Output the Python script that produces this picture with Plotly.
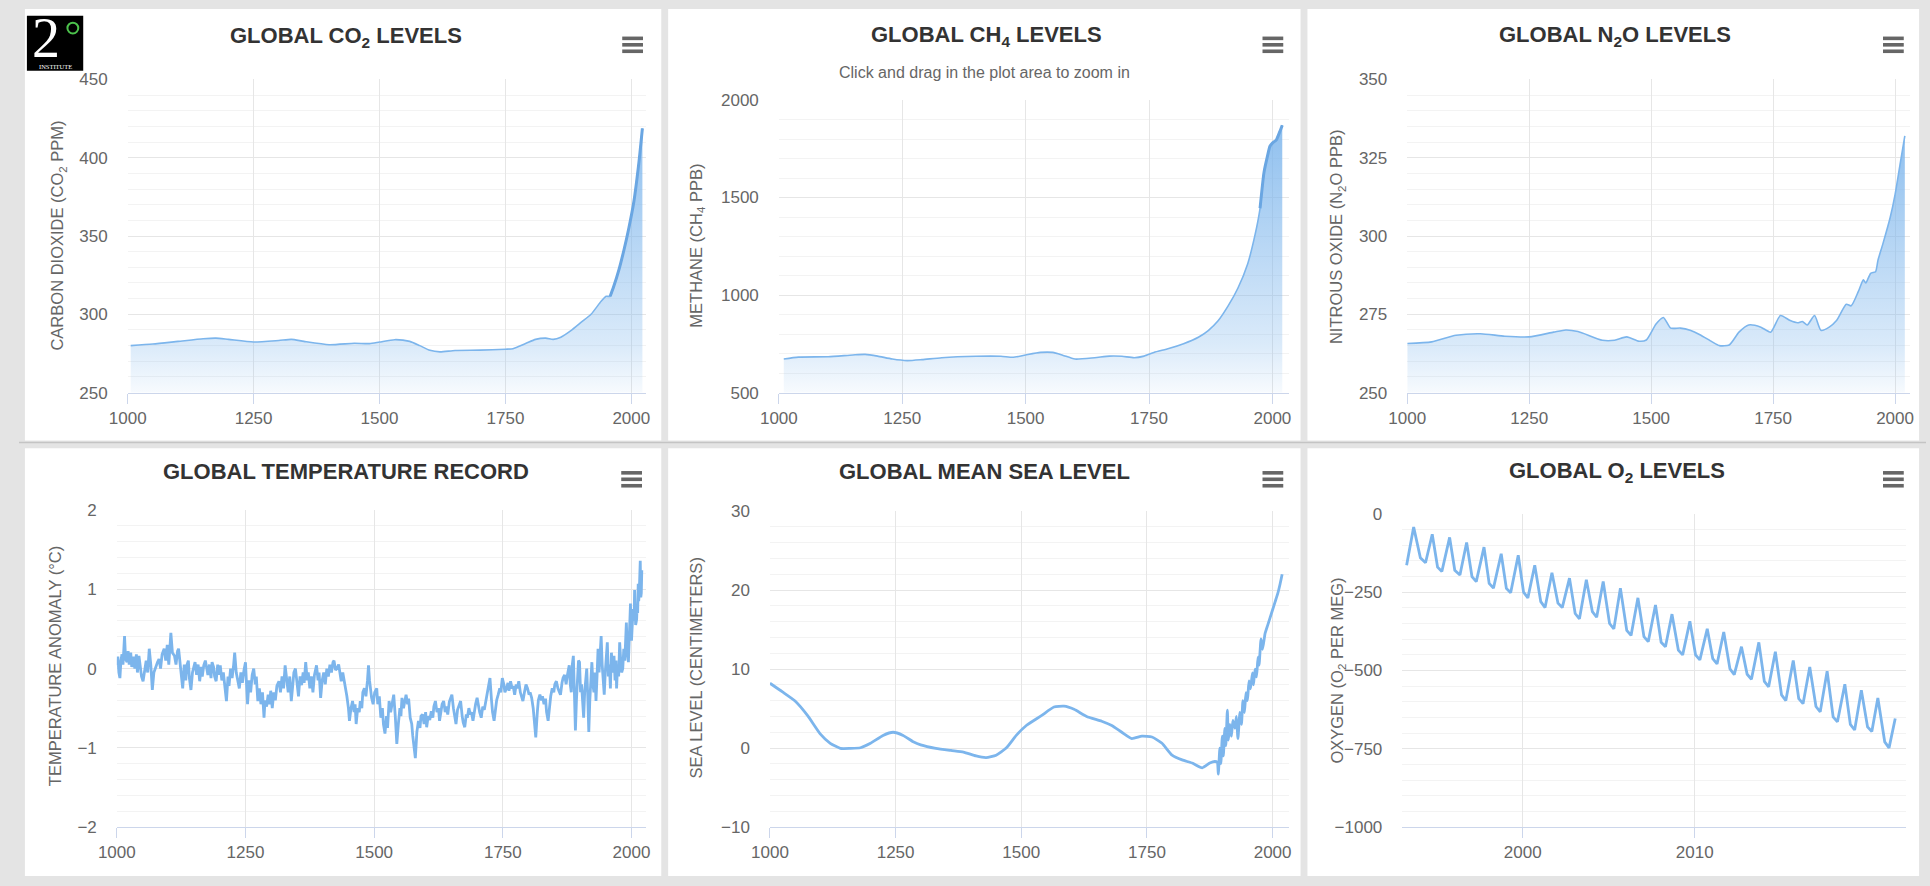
import plotly.graph_objects as go

W, H = 1930, 886

# ---------------- DATA ----------------
co2_years = [1006, 1050, 1100, 1150, 1175, 1200, 1250, 1300, 1325, 1350, 1400, 1450, 1480, 1500, 1530,
             1560, 1580, 1600, 1620, 1650, 1700, 1750, 1765, 1790, 1810, 1830, 1845, 1860, 1880, 1900,
             1920, 1940, 1950, 1958, 1965, 1975, 1985, 1995, 2005, 2015, 2022]
co2_ppm = [280.0, 281.0, 282.7, 284.4, 284.8, 284.0, 282.3, 283.3, 284.0, 282.7, 280.6, 281.5, 281.3, 282.3, 283.8,
           282.7, 280.0, 277.0, 276.0, 276.9, 277.1, 277.7, 278.0, 281.3, 284.0, 284.8, 284.0, 285.4, 289.6, 294.8,
           300.0, 308.3, 311.5, 311.5, 317.7, 328.0, 340.6, 355.0, 371.9, 396.9, 418.8]

ch4_years = [1010, 1040, 1100, 1150, 1175, 1200, 1230, 1260, 1290, 1330, 1400, 1450, 1475, 1500, 1530, 1555,
             1575, 1600, 1640, 1670, 1695, 1720, 1740, 1760, 1790, 1820, 1850, 1870, 1890, 1910, 1930, 1950,
             1965, 1975, 1983, 1990, 1995, 2000, 2008, 2015, 2020]
ch4_ppb = [672, 682, 684, 693, 696, 687, 672, 664, 669, 679, 686, 686, 681, 693, 706, 706,
           692, 672, 679, 687, 686, 679, 687, 706, 726, 751, 784, 818, 868, 943, 1035, 1161,
           1311, 1445, 1629, 1712, 1763, 1779, 1796, 1838, 1871]

n2o_years = [1000, 1050, 1100, 1150, 1200, 1250, 1300, 1325, 1350, 1400, 1425, 1450, 1475, 1490, 1510, 1525,
             1540, 1560, 1580, 1600, 1625, 1640, 1660, 1680, 1700, 1725, 1745, 1765, 1785, 1800, 1810, 1820,
             1835, 1848, 1865, 1880, 1900, 1910, 1925, 1935, 1940, 1950, 1960, 1965, 1975, 1990, 2000, 2010, 2020]
n2o_ppb = [265.7, 266.2, 268.3, 268.8, 268.0, 267.8, 269.3, 270.0, 269.5, 266.7, 266.7, 267.8, 266.4, 266.8, 271.9, 274.0,
           270.6, 270.6, 269.9, 268.5, 266.2, 265.0, 265.2, 269.3, 271.6, 270.9, 269.3, 274.6, 273.0, 272.3, 272.7, 271.6,
           274.6, 269.9, 270.9, 273.0, 278.2, 277.7, 282.4, 286.0, 285.0, 288.1, 288.6, 292.3, 297.5, 305.9, 313.2, 322.6, 332.0]

# temperature anomaly (year, degC)
temp_points = [
    (1000, 0.04), (1002, 0.15), (1004, -0.05), (1006, -0.12), (1008, 0.10), (1010, 0.18), (1012, 0.05), (1015, 0.41),
    (1017, 0.12), (1020, 0.08), (1022, 0.22), (1024, 0.05), (1027, 0.20), (1029, 0.02), (1032, 0.15), (1035, 0.00),
    (1038, 0.18), (1040, -0.05), (1043, 0.16), (1046, -0.02), (1048, -0.10), (1051, -0.16), (1054, -0.02), (1057, 0.10),
    (1060, -0.05), (1063, 0.25), (1066, 0.05), (1069, -0.27), (1072, -0.05), (1075, 0.02), (1079, 0.08), (1082, 0.12),
    (1085, 0.00), (1088, 0.18), (1092, 0.25), (1095, 0.10), (1098, 0.30), (1101, 0.05), (1105, 0.45), (1108, 0.20),
    (1112, 0.16), (1115, 0.05), (1118, 0.22), (1120, 0.25), (1123, 0.05), (1126, -0.10), (1128, -0.25), (1131, 0.05),
    (1134, -0.15), (1136, 0.04), (1139, 0.10), (1141, -0.12), (1144, -0.27), (1147, -0.05), (1150, 0.02), (1152, 0.08),
    (1155, -0.08), (1158, 0.05), (1161, -0.16), (1164, 0.02), (1166, -0.10), (1169, 0.04), (1172, 0.10), (1175, -0.05),
    (1177, -0.08), (1180, 0.05), (1183, -0.12), (1185, 0.08), (1188, 0.02), (1190, -0.10), (1193, -0.16), (1196, 0.05),
    (1198, -0.08), (1201, 0.04), (1204, -0.15), (1207, -0.05), (1210, -0.25), (1213, -0.41), (1216, -0.10), (1218, -0.22),
    (1221, 0.00), (1224, -0.12), (1227, 0.05), (1229, 0.20), (1232, -0.05), (1235, -0.15), (1238, -0.25), (1241, -0.05),
    (1244, -0.18), (1247, -0.02), (1250, 0.08), (1252, -0.20), (1254, -0.45), (1257, -0.15), (1260, -0.30), (1263, -0.08),
    (1266, 0.00), (1269, -0.20), (1271, -0.10), (1274, -0.41), (1277, -0.25), (1280, -0.45), (1283, -0.30), (1286, -0.62),
    (1288, -0.40), (1291, -0.48), (1294, -0.33), (1297, -0.45), (1299, -0.28), (1302, -0.50), (1305, -0.30), (1308, -0.40),
    (1311, -0.22), (1315, -0.16), (1318, -0.30), (1321, -0.10), (1324, -0.25), (1327, 0.04), (1330, -0.15), (1333, -0.30),
    (1336, -0.10), (1339, -0.41), (1342, -0.20), (1344, -0.05), (1347, 0.00), (1350, -0.20), (1353, -0.35), (1356, -0.10),
    (1359, -0.21), (1362, -0.05), (1364, -0.18), (1367, 0.08), (1370, -0.15), (1372, -0.05), (1375, -0.25), (1378, -0.10),
    (1381, -0.30), (1384, -0.08), (1388, 0.04), (1391, -0.15), (1393, -0.05), (1396, -0.37), (1399, -0.15), (1402, -0.05),
    (1405, -0.20), (1408, 0.00), (1411, -0.10), (1414, 0.05), (1417, -0.05), (1420, 0.08), (1422, 0.10), (1425, -0.02),
    (1428, 0.00), (1431, 0.05), (1434, -0.10), (1436, -0.16), (1439, -0.05), (1441, -0.12), (1444, -0.25), (1447, -0.35),
    (1450, -0.50), (1452, -0.66), (1455, -0.50), (1458, -0.41), (1461, -0.55), (1463, -0.45), (1465, -0.70), (1468, -0.50),
    (1471, -0.55), (1473, -0.41), (1476, -0.50), (1478, -0.30), (1481, -0.25), (1484, -0.35), (1487, -0.15), (1489, 0.04),
    (1491, -0.15), (1493, -0.30), (1495, -0.37), (1498, -0.45), (1501, -0.30), (1505, -0.25), (1507, -0.45), (1510, -0.35),
    (1513, -0.62), (1516, -0.50), (1518, -0.70), (1521, -0.82), (1524, -0.60), (1526, -0.75), (1529, -0.41), (1532, -0.55),
    (1535, -0.45), (1538, -0.33), (1541, -0.60), (1544, -0.95), (1547, -0.70), (1550, -0.50), (1552, -0.60), (1554, -0.37),
    (1557, -0.50), (1560, -0.40), (1562, -0.33), (1565, -0.45), (1567, -0.38), (1570, -0.62), (1573, -0.70), (1575, -0.85),
    (1577, -0.95), (1580, -1.13), (1583, -0.80), (1586, -0.66), (1589, -0.75), (1591, -0.60), (1594, -0.58), (1597, -0.70),
    (1600, -0.55), (1602, -0.74), (1605, -0.60), (1608, -0.65), (1611, -0.54), (1614, -0.62), (1616, -0.48), (1619, -0.41),
    (1622, -0.55), (1625, -0.50), (1627, -0.66), (1630, -0.50), (1632, -0.45), (1635, -0.41), (1638, -0.55), (1640, -0.48),
    (1643, -0.58), (1646, -0.42), (1648, -0.38), (1651, -0.33), (1654, -0.50), (1656, -0.60), (1659, -0.70), (1662, -0.52),
    (1665, -0.45), (1668, -0.41), (1671, -0.60), (1673, -0.68), (1676, -0.74), (1679, -0.58), (1681, -0.62), (1684, -0.50),
    (1687, -0.58), (1689, -0.55), (1692, -0.66), (1695, -0.50), (1697, -0.45), (1700, -0.37), (1703, -0.50), (1705, -0.55),
    (1708, -0.62), (1711, -0.48), (1714, -0.52), (1717, -0.41), (1720, -0.35), (1722, -0.25), (1725, -0.12), (1728, -0.40),
    (1730, -0.55), (1733, -0.66), (1736, -0.45), (1738, -0.40), (1741, -0.33), (1744, -0.25), (1746, -0.30), (1749, -0.12),
    (1752, -0.20), (1754, -0.30), (1757, -0.25), (1760, -0.18), (1762, -0.28), (1765, -0.16), (1768, -0.25), (1770, -0.22),
    (1773, -0.33), (1776, -0.20), (1778, -0.25), (1781, -0.16), (1784, -0.30), (1786, -0.35), (1789, -0.41), (1792, -0.30),
    (1795, -0.20), (1798, -0.25), (1801, -0.33), (1803, -0.30), (1806, -0.37), (1809, -0.50), (1811, -0.65), (1814, -0.87),
    (1817, -0.55), (1819, -0.40), (1822, -0.33), (1825, -0.40), (1827, -0.35), (1830, -0.45), (1833, -0.38), (1835, -0.55),
    (1838, -0.66), (1841, -0.45), (1843, -0.35), (1846, -0.25), (1849, -0.30), (1851, -0.20), (1854, -0.16), (1857, -0.25),
    (1859, -0.28), (1862, -0.33), (1865, -0.18), (1867, -0.12), (1870, -0.08), (1873, -0.20), (1875, -0.10), (1877, -0.02),
    (1879, 0.04), (1881, -0.20), (1883, -0.30), (1885, 0.05), (1887, 0.16), (1889, -0.30), (1891, -0.78), (1893, -0.40),
    (1895, -0.10), (1897, 0.10), (1899, 0.08), (1901, -0.30), (1903, -0.20), (1905, -0.45), (1907, -0.62), (1909, -0.30),
    (1911, -0.15), (1913, 0.00), (1915, -0.35), (1917, -0.80), (1919, -0.40), (1921, -0.10), (1923, 0.08), (1925, -0.20),
    (1927, -0.30), (1929, -0.05), (1931, -0.41), (1933, -0.10), (1935, 0.25), (1937, -0.05), (1939, 0.15), (1941, 0.41),
    (1943, 0.05), (1945, -0.10), (1947, -0.33), (1949, -0.05), (1951, 0.10), (1953, 0.33), (1955, -0.10), (1957, 0.05),
    (1959, -0.25), (1961, 0.20), (1963, -0.05), (1965, 0.10), (1966, 0.16), (1968, -0.15), (1970, 0.10), (1971, -0.25),
    (1973, 0.05), (1975, -0.10), (1977, 0.33), (1979, 0.10), (1981, -0.05), (1983, 0.00), (1985, 0.25), (1987, 0.10),
    (1988, 0.35), (1990, 0.58), (1992, 0.20), (1994, 0.08), (1996, 0.45), (1998, 0.82), (2000, 0.35), (2002, 0.58),
    (2003, 0.75), (2005, 0.60), (2006, 0.99), (2008, 0.55), (2010, 0.62), (2011, 0.80), (2012, 0.70), (2013, 1.07),
    (2014, 0.85), (2015, 0.95), (2016, 1.20), (2017, 1.36), (2018, 0.90), (2019, 0.95), (2020, 1.24)]
temp_years = [p[0] for p in temp_points]
temp_anom = [p[1] for p in temp_points]

sea_years = [1000, 1025, 1050, 1075, 1100, 1120, 1140, 1160, 1180, 1200, 1225, 1245, 1265, 1285, 1300, 1330,
             1360, 1385, 1410, 1430, 1450, 1470, 1490, 1510, 1540, 1565, 1585, 1605, 1630, 1660, 1680, 1700,
             1720, 1740, 1760, 1780, 1800, 1820, 1840, 1860, 1875, 1885, 1890, 1892, 1895, 1897, 1900, 1902,
             1905, 1907, 1910, 1912, 1915, 1918, 1921, 1925, 1928, 1931, 1935, 1938, 1941, 1944, 1947, 1950,
             1953, 1956, 1960, 1962, 1965, 1968, 1971, 1973, 1977, 1980, 1985, 1990, 1995, 2000, 2005, 2010,
             2015, 2019]
sea_cm = [8.2, 7.1, 5.95, 4.1, 1.8, 0.6, -0.04, -0.04, 0.04, 0.6, 1.6, 2.0, 1.6, 0.8, 0.4, -0.04,
          -0.3, -0.5, -1.0, -1.2, -0.9, 0.0, 1.6, 2.85, 4.1, 5.2, 5.3, 4.9, 4.0, 3.4, 2.85, 2.0,
          1.2, 1.5, 1.4, 0.6, -0.9, -1.5, -1.9, -2.5, -1.9, -1.7, -1.8, -3.3, 0.0, -2.0, 1.5, -1.0,
          2.5, 0.3, 4.8, 1.0, 3.0, 1.5, 3.5, 2.5, 4.0, 1.2, 4.5, 3.0, 6.0, 4.5, 7.0, 6.0,
          8.5, 7.5, 9.5, 8.0, 10.0, 9.0, 11.5, 10.5, 13.8, 12.5, 14.5, 15.5, 16.5, 17.5, 18.5, 19.5,
          20.8, 22.0]

# O2 (year, per meg)
o2_points = [
    (1993.25, -164), (1993.66, -42), (1994.05, -140), (1994.35, -156), (1994.74, -65), (1995.05, -170),
    (1995.3, -184), (1995.75, -75), (1996.05, -180), (1996.35, -195), (1996.74, -91), (1997.05, -200),
    (1997.3, -216), (1997.75, -106), (1998.05, -222), (1998.3, -237), (1998.75, -127), (1999.05, -238),
    (1999.3, -252), (1999.74, -132), (2000.05, -250), (2000.3, -268), (2000.7, -164), (2001.05, -280),
    (2001.3, -299), (2001.7, -188), (2002.05, -285), (2002.3, -299), (2002.72, -205), (2003.05, -318),
    (2003.3, -335), (2003.7, -210), (2004.05, -312), (2004.3, -330), (2004.68, -216), (2005.05, -350),
    (2005.3, -367), (2005.68, -237), (2006.05, -372), (2006.3, -388), (2006.7, -268), (2007.05, -392),
    (2007.3, -408), (2007.72, -291), (2008.05, -410), (2008.3, -424), (2008.68, -320), (2009.05, -435),
    (2009.3, -450), (2009.72, -343), (2010.05, -450), (2010.3, -466), (2010.73, -367), (2011.05, -462),
    (2011.3, -479), (2011.69, -377), (2012.05, -495), (2012.3, -513), (2012.72, -424), (2013.05, -512),
    (2013.3, -528), (2013.73, -410), (2014.05, -535), (2014.3, -552), (2014.69, -440), (2015.05, -578),
    (2015.3, -596), (2015.73, -468), (2016.05, -590), (2016.3, -606), (2016.69, -489), (2017.05, -615),
    (2017.3, -632), (2017.7, -502), (2018.05, -648), (2018.3, -664), (2018.73, -544), (2019.05, -672),
    (2019.3, -690), (2019.69, -563), (2020.05, -680), (2020.3, -695), (2020.65, -588), (2021.05, -728),
    (2021.3, -747), (2021.66, -653)]
o2_years = [p[0] for p in o2_points]
o2_permeg = [p[1] for p in o2_points]

titles = ["GLOBAL CO<sub>2</sub> LEVELS", "GLOBAL CH<sub>4</sub> LEVELS", "GLOBAL N<sub>2</sub>O LEVELS",
          "GLOBAL TEMPERATURE RECORD", "GLOBAL MEAN SEA LEVEL", "GLOBAL O<sub>2</sub> LEVELS"]
ytitles = ["CARBON DIOXIDE (CO<sub>2</sub> PPM)", "METHANE (CH<sub>4</sub> PPB)", "NITROUS OXIDE (N<sub>2</sub>O PPB)",
           "TEMPERATURE ANOMALY (°C)", "SEA LEVEL (CENTIMETERS)", "OXYGEN (O<sub>2</sub> PER MEG)"]
subtitle = "Click and drag in the plot area to zoom in"
century_ticks = [1000, 1250, 1500, 1750, 2000]
o2_ticks = [2000, 2010]

# ---------------- LAYOUT GEOMETRY (pixels) ----------------
plots = [(110, 635, 72, 392), (769, 1285, 93, 392), (1405, 1914, 72, 392),
         (99, 635, 512, 836), (760, 1285, 513, 836), (1400, 1910, 516, 836)]
yranges = [(250, 450), (500, 2000), (250, 350), (-2, 2), (-10, 30), (-1000, 0)]
ydticks = [50, 500, 25, 1, 10, 250]
yminor = [10, 100, 5, 0.2, 2, 50]
xranges = [(1000, 2030), (1000, 2033), (1000, 2031), (1000, 2029), (1000, 2032), (1993.0, 2022.3)]
title_pos = [(331, 29), (979, 28), (1615, 28), (331, 473), (977, 473), (1617, 473)]
ytitle_pos = [(40, 232), (686, 242), (1334, 233), (36, 672), (685, 673), (1334, 676)]
menu_pos = [(609, 30), (1257, 30), (1885, 30), (608, 474), (1257, 474), (1885, 474)]
modern_start = {0: 1958, 1: 1975}

LINE = "#7cb5ec"


def px_x(v):
    return v / W


def px_y(v):
    return 1 - v / H


fig = go.Figure()

series = [(co2_years, co2_ppm), (ch4_years, ch4_ppb), (n2o_years, n2o_ppb),
          (temp_years, temp_anom), (sea_years, sea_cm), (o2_years, o2_permeg)]

for i, (xs, ys) in enumerate(series):
    ax = "" if i == 0 else str(i + 1)
    kw = dict(x=xs, y=ys, mode="lines", xaxis="x" + ax, yaxis="y" + ax, showlegend=False,
              hoverinfo="x+y")
    if i < 3:
        lo = yranges[i][0]
        hi = max(ys)
        kw.update(line=dict(color=LINE, width=1.6, shape="spline", smoothing=0.6),
                  fill="tozeroy",
                  fillgradient=dict(type="vertical", start=lo, stop=hi,
                                    colorscale=[[0, "rgba(124,181,236,0.03)"],
                                                [0.2, "rgba(124,181,236,0.28)"],
                                                [1, "rgba(124,181,236,0.85)"]]))
    elif i == 4:
        kw.update(line=dict(color=LINE, width=2.8, shape="spline", smoothing=0.5))
    else:
        kw.update(line=dict(color=LINE, width=2.8))
    fig.add_trace(go.Scatter(**kw))
    if i in modern_start:
        # denser (seasonal) modern record drawn as a heavier stroke
        idx = [k for k, yr in enumerate(xs) if yr >= modern_start[i]]
        fig.add_trace(go.Scatter(x=[xs[k] for k in idx], y=[ys[k] for k in idx], mode="lines",
                                 xaxis="x" + ax, yaxis="y" + ax, showlegend=False, hoverinfo="skip",
                                 line=dict(color="#6aa6e2", width=3.0, shape="spline", smoothing=0.6)))

layout = dict(width=W, height=H, margin=dict(l=0, r=0, t=0, b=0, pad=0), autosize=False,
              paper_bgcolor="#e4e4e4", plot_bgcolor="white",
              font=dict(family="Liberation Sans, Arial, sans-serif", color="#666666"))

shapes = []
annotations = []

# panel backgrounds
panels = [(6, 650, 0, 441), (657, 1297, 0, 441), (1304, 1923, 0, 441),
          (6, 650, 449, 886), (657, 1297, 449, 886), (1304, 1923, 449, 886)]
for (l, r, t, b) in panels:
    shapes.append(dict(type="rect", xref="paper", yref="paper", x0=px_x(l), x1=px_x(r),
                       y0=px_y(b), y1=px_y(t), fillcolor="white", line=dict(width=0), layer="below"))
shapes.append(dict(type="line", xref="paper", yref="paper", x0=0, x1=1, y0=px_y(443), y1=px_y(443),
                   line=dict(color="#c4c4c4", width=1.5), layer="below"))

for i in range(6):
    ax = "" if i == 0 else str(i + 1)
    l, r, t, b = plots[i]
    xa = dict(domain=[px_x(l), px_x(r)], anchor="y" + ax, range=list(xranges[i]),
              showgrid=True, gridcolor="#e6e6e6", gridwidth=1, zeroline=False,
              showline=True, linecolor="#ccd6eb", linewidth=1,
              ticks="outside", ticklen=10, tickcolor="#ccd6eb",
              tickvals=o2_ticks if i == 5 else century_ticks,
              tickfont=dict(size=17, color="#666666"), fixedrange=True)
    ya = dict(domain=[px_y(b), px_y(t)], anchor="x" + ax, range=list(yranges[i]),
              dtick=ydticks[i], tick0=0, showgrid=True, gridcolor="#e6e6e6", gridwidth=1,
              zeroline=False, showline=False, ticks="", ticklabelstandoff=19,
              tickfont=dict(size=17, color="#666666"), fixedrange=True,
              minor=dict(dtick=yminor[i], tick0=0, showgrid=True, gridcolor="#f3f3f3", gridwidth=1))
    layout["xaxis" + ax] = xa
    layout["yaxis" + ax] = ya

    tx, ty = title_pos[i]
    annotations.append(dict(text="<b>" + titles[i] + "</b>", x=px_x(tx), y=px_y(ty), xref="paper", yref="paper",
                            showarrow=False, xanchor="center", yanchor="middle",
                            font=dict(size=22, color="#333333", family="Liberation Sans, Arial, sans-serif")))
    yx, yy = ytitle_pos[i]
    annotations.append(dict(text=ytitles[i], x=px_x(yx), y=px_y(yy), xref="paper", yref="paper",
                            showarrow=False, textangle=-90, xanchor="center", yanchor="middle",
                            font=dict(size=16.5, color="#666666")))
    mx, my = menu_pos[i]
    for k in range(3):
        yk = my + k * 6.6
        shapes.append(dict(type="line", xref="paper", yref="paper", x0=px_x(mx + 1.5), x1=px_x(mx + 22.5),
                           y0=px_y(yk), y1=px_y(yk), line=dict(color="#666666", width=3.6)))

annotations.append(dict(text=subtitle, x=px_x(977), y=px_y(65), xref="paper", yref="paper", showarrow=False,
                        xanchor="center", yanchor="middle", font=dict(size=16, color="#666666")))

# logo
shapes.append(dict(type="rect", xref="paper", yref="paper", x0=px_x(8), x1=px_x(65), y0=px_y(63), y1=px_y(7),
                   fillcolor="black", line=dict(width=0)))
shapes.append(dict(type="circle", xref="paper", yref="paper", x0=px_x(49), x1=px_x(60), y0=px_y(25), y1=px_y(14),
                   line=dict(color="#4cc24c", width=2)))
annotations.append(dict(text="2", x=px_x(27), y=px_y(30), xref="paper", yref="paper", showarrow=False,
                        xanchor="center", yanchor="middle", height=40,
                        font=dict(size=56, color="white", family="Liberation Serif, DejaVu Serif, serif")))
annotations.append(dict(text="INSTITUTE", x=px_x(36.5), y=px_y(58.5), xref="paper", yref="paper", showarrow=False,
                        xanchor="center", yanchor="middle",
                        font=dict(size=6.5, color="white", family="Liberation Serif, DejaVu Serif, serif")))

layout["shapes"] = shapes
layout["annotations"] = annotations
fig.update_layout(**layout)

fig.write_html("out.html", config={"displayModeBar": False},
               post_script="document.body.style.margin='0';document.body.style.overflow='hidden';")
